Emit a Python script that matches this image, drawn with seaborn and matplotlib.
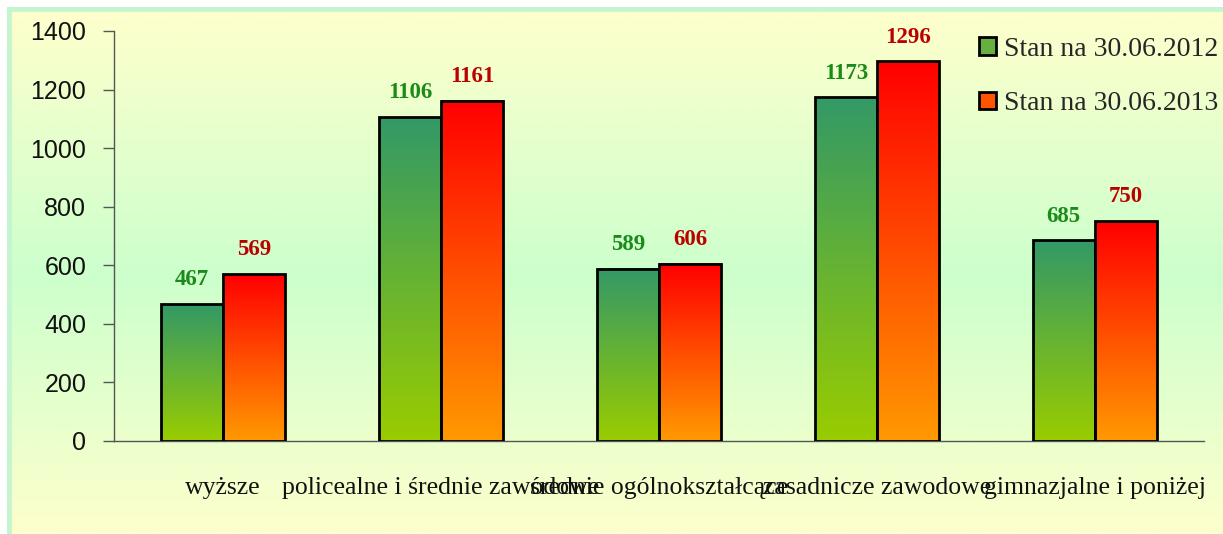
import numpy as np
import pandas as pd
import matplotlib
matplotlib.use("Agg")
import matplotlib.pyplot as plt
from matplotlib.colors import LinearSegmentedColormap
from matplotlib.patches import Patch, Rectangle
import seaborn as sns

# data
categories = ["wyższe", "policealne i średnie zawodowe", "średnie ogólnokształcące",
              "zasadnicze zawodowe", "gimnazjalne i poniżej"]
series_names = ["Stan na 30.06.2012", "Stan na 30.06.2013"]
values_2012 = [467, 1106, 589, 1173, 685]
values_2013 = [569, 1161, 606, 1296, 750]
y_ticks = [0, 200, 400, 600, 800, 1000, 1200, 1400]

df = pd.DataFrame({
    "kategoria": categories * 2,
    "stan": [series_names[0]] * 5 + [series_names[1]] * 5,
    "liczba": values_2012 + values_2013,
})

sns.set_theme(style="white")
plt.rcParams["font.family"] = ["Liberation Sans", "DejaVu Sans"]

W, H = 1223, 534
fig = plt.figure(figsize=(W / 100, H / 100), dpi=100)
fig.patch.set_facecolor("white")

# panel background with vertical gradient (yellow - mint - yellow)
# extends past the right and bottom edges so only the left/top border shows
bg = fig.add_axes([7 / W, -10 / H, 1 - 7 / W + 10 / W, (H - 7 + 10) / H])
bg_cmap = LinearSegmentedColormap.from_list(
    "bg", [(0.0, "#FFFFCC"), (0.5, "#CCFFCC"), (1.0, "#FFFFCC")])
bg.imshow(np.linspace(0, 1, 256).reshape(-1, 1), cmap=bg_cmap, aspect="auto",
          extent=(0, 1, 0, 1), origin="upper")
bg.add_patch(Rectangle((0, 0), 1, 1, transform=bg.transAxes, fill=False,
                       edgecolor="#C4F5CF", lw=7, clip_on=True))
bg.set_axis_off()

ax = fig.add_axes([114 / W, (H - 441) / H, (1204 - 114) / W, (441 - 31) / H])
ax.set_facecolor("none")

green = "#339966"
red = "#FF1100"
sns.barplot(data=df, x="kategoria", y="liczba", hue="stan", order=categories,
            hue_order=series_names, palette=[green, red], width=0.573, gap=0,
            ax=ax, legend=False, zorder=2)

grads = [
    LinearSegmentedColormap.from_list("g", ["#99CC00", "#339966"]),
    LinearSegmentedColormap.from_list("r", ["#FF9900", "#FF0000"]),
]
label_colors = ["#1A8A1A", "#BB0000"]

for cont, cmap, lc in zip(ax.containers, grads, label_colors):
    for bar in cont:
        x0, w, h = bar.get_x(), bar.get_width(), bar.get_height()
        ax.imshow(np.linspace(1, 0, 128).reshape(-1, 1), cmap=cmap, aspect="auto",
                  extent=(x0, x0 + w, 0, h), zorder=2)
        bar.set_facecolor("none")
        bar.set_edgecolor("black")
        bar.set_linewidth(2)
        bar.set_zorder(3)
    ax.bar_label(cont, padding=10, color=lc, fontsize=16.5, fontweight="bold",
                 family=["Liberation Serif"])

ax.set_xlim(-0.5, len(categories) - 0.5)
ax.set_ylim(0, 1400)
ax.set_yticks(y_ticks)
ax.set_xticks(range(len(categories)))
ax.set_xticks(np.arange(-0.5, len(categories), 1.0), minor=True)
ax.set_xticklabels(categories, fontsize=18.5, family=["Liberation Serif"], color="#111111")
ax.tick_params(axis="x", which="major", length=0, pad=26)
ax.tick_params(axis="x", which="minor", length=7, width=1, color="#555555", direction="out")
ax.tick_params(axis="y", length=8, width=1, color="#555555", direction="out",
               labelsize=18, pad=12, labelcolor="#111111", left=True)
ax.set_xlabel("")
ax.set_ylabel("")
for s in ["top", "right"]:
    ax.spines[s].set_visible(False)
for s in ["left", "bottom"]:
    ax.spines[s].set_color("#555555")
    ax.spines[s].set_linewidth(1)

handles = [Patch(facecolor="#66B040", edgecolor="black", lw=2),
           Patch(facecolor="#FF5500", edgecolor="black", lw=2)]
fig.legend(handles, series_names, loc="upper left",
           bbox_to_anchor=(979 / W, (H - 37) / H), frameon=False,
           prop={"family": "Liberation Serif", "size": 20},
           handlelength=0.6, handleheight=0.6, handletextpad=0.3,
           labelspacing=1.05, borderpad=0, borderaxespad=0)

fig.savefig("out.png", dpi=100)
